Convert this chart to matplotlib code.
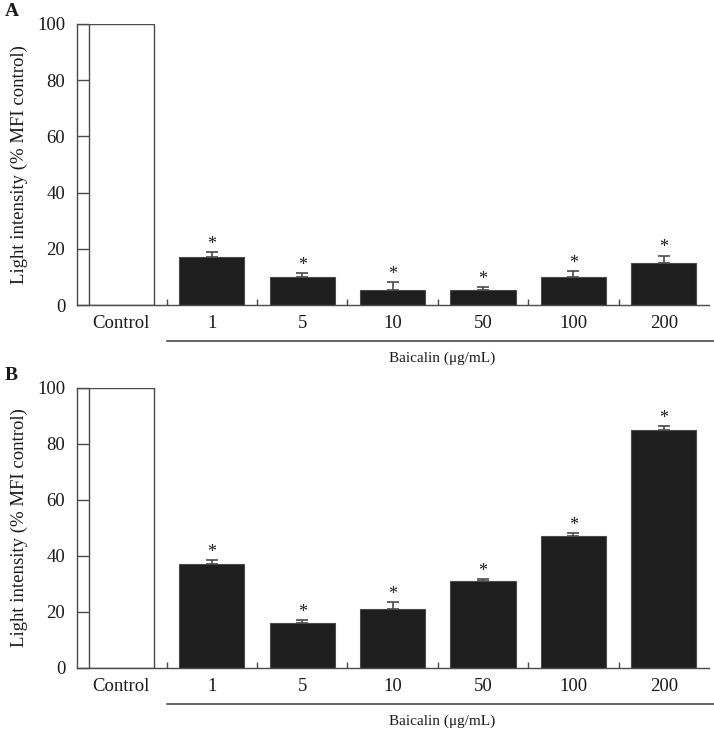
import matplotlib
matplotlib.use("Agg")
import matplotlib.pyplot as plt
import numpy as np
from matplotlib.transforms import blended_transform_factory

plt.rcParams['font.family'] = ['Liberation Serif', 'DejaVu Serif']

categories = ["Control", "1", "5", "10", "50", "100", "200"]
values_a = [100, 17.0, 10.1, 5.2, 5.2, 10.1, 15.0]
errors_a = [0, 1.9, 1.2, 2.9, 1.2, 1.9, 2.6]
values_b = [100, 37.2, 16.0, 21.0, 31.1, 47.1, 85.0]
errors_b = [0, 1.2, 1.0, 2.6, 0.7, 1.1, 1.4]
yticks = [0, 20, 40, 60, 80, 100]
xlabel = "Baicalin (\u03bcg/mL)"
ylabel = "Light intensity (% MFI control)"
panel_labels = ["A", "B"]

W, H = 714, 737
fig = plt.figure(figsize=(W / 100, H / 100), dpi=100)

edge = "#4a4a4a"
fill = "#1e1e1e"
txt = "#1a1a1a"
fs = 13.5

axes_px = [(77, 24, 709, 305), (77, 388, 709, 668)]
datasets = [(values_a, errors_a), (values_b, errors_b)]

for (x0, y0, x1, y1), (vals, errs), lab in zip(axes_px, datasets, panel_labels):
    ax = fig.add_axes([x0 / W, 1 - y1 / H, (x1 - x0) / W, (y1 - y0) / H])
    x = np.arange(len(categories))
    width = 0.72
    # control bar (white)
    ax.bar(x[0], vals[0], width=width, color="white", edgecolor=edge, linewidth=1.0, zorder=2)
    # treatment bars
    ax.bar(x[1:], vals[1:], width=width, color=fill, edgecolor=edge, linewidth=0.8, zorder=2)
    ax.errorbar(x[1:], vals[1:], yerr=[np.zeros(len(vals) - 1), errs[1:]], fmt="none",
                ecolor=edge, elinewidth=1.2, capsize=4, capthick=1.2, zorder=1.5)
    for xi, v, e in zip(x[1:], vals[1:], errs[1:]):
        ax.annotate("*", xy=(xi, v + e), xytext=(0, -0.5), textcoords="offset points",
                    ha="center", va="bottom", fontsize=13, color=txt)
    xl = (-0.49, 6.5)
    ax.set_xlim(*xl)
    ax.set_ylim(0, 100)
    ax.hlines(vals[0], xl[0], x[0] - width / 2, color=edge, linewidth=1.0, zorder=2)
    for s in ("top", "right"):
        ax.spines[s].set_visible(False)
    for s in ("left", "bottom"):
        ax.spines[s].set_color(edge)
        ax.spines[s].set_linewidth(1.0)
    ax.set_yticks(yticks)
    ax.tick_params(axis="y", direction="in", length=8.6, width=1.0, color=edge,
                   labelsize=fs, labelcolor=txt, pad=8.5)
    ax.set_xticks(x)
    ax.set_xticklabels(categories)
    ax.tick_params(axis="x", which="major", length=0, labelsize=fs, labelcolor=txt, pad=7)
    ax.set_xticks(x[:-1] + 0.5, minor=True)
    ax.tick_params(axis="x", which="minor", direction="in", length=4.3, width=1.0, color=edge)
    ax.set_ylabel(ylabel, fontsize=fs, color=txt)
    ax.yaxis.set_label_coords(-0.078, 0.5)
    tr = blended_transform_factory(ax.transData, ax.transAxes)
    ax.plot([0.5, 6.6], [-0.128, -0.128], transform=tr, color=edge, linewidth=1.2, clip_on=False)
    ax.text(3.55, -0.19, xlabel, transform=tr, ha="center", va="center", fontsize=11, color=txt)
    fig.text(5 / W, 1 - (y0 - 12) / H, lab, fontsize=14, fontweight="bold", color=txt,
             ha="left", va="center")

fig.savefig("out.png", dpi=100)
